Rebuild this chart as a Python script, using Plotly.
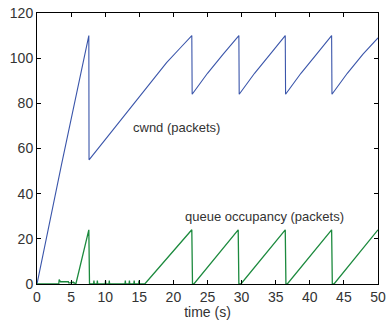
import plotly.graph_objects as go

# cwnd (packets) over time (s)
cwnd_t = [0, 3.6, 7.6, 7.63, 11.2, 16.1, 19.0, 21.0, 22.7,
          22.75, 25.0, 27.3, 29.6,
          29.65, 31.9, 34.2, 36.4,
          36.45, 38.7, 41.0, 43.2,
          43.25, 45.5, 47.8, 50]
cwnd_v = [0, 53, 110, 55, 68.5, 87, 98, 104.5, 110,
          84, 93.3, 101.8, 110,
          84, 93.3, 101.8, 110,
          84, 93.3, 101.8, 110,
          84, 93.3, 101.8, 109]

# queue occupancy (packets) over time (s)
queue_t = [0, 3.2, 3.25, 3.4, 3.45, 4.6, 4.65, 5.0, 5.05, 5.3, 5.35, 5.7,
           7.6, 7.7, 8.3, 8.35, 8.4, 8.8, 8.85, 8.9, 10.0, 10.05, 10.1,
           10.55, 10.6, 10.65, 12.9, 12.95, 13.0, 13.5, 13.55, 13.6,
           14.2, 14.25, 14.3, 14.9, 14.95, 15.0, 15.8, 22.7, 22.8, 23.0,
           29.5, 29.6, 29.9, 36.4, 36.5, 36.7, 43.2, 43.3, 43.55, 50]
queue_v = [0, 0, 2, 1.5, 1, 1, 0.5, 0.5, 1, 0.5, 0.8, 0,
           24, 0, 0, 1.5, 0, 0, 1.5, 0, 0, 1.5, 0,
           0, 1.5, 0, 0, 1.5, 0, 0, 1.5, 0,
           0, 1.5, 0, 0, 1.5, 0, 0, 24, 0, 0,
           24, 0, 0, 24, 0, 0, 24, 0, 0, 24]

x_ticks = [0, 5, 10, 15, 20, 25, 30, 35, 40, 45, 50]
y_ticks = [0, 20, 40, 60, 80, 100, 120]

fig = go.Figure()
fig.add_trace(go.Scatter(x=cwnd_t, y=cwnd_v, mode="lines",
                         line=dict(color="#3a55aa", width=1.1), showlegend=False))
fig.add_trace(go.Scatter(x=queue_t, y=queue_v, mode="lines",
                         line=dict(color="#1c8a3e", width=1.3), showlegend=False))

fam = "Liberation Sans, Arial, sans-serif"
font = dict(family=fam, size=14, color="#333333")

fig.add_annotation(x=20.4, y=69.5, text="cwnd (packets)", showarrow=False,
                   font=dict(family=fam, size=13, color="#333333"))
fig.add_annotation(x=33.3, y=29.9, text="queue occupancy (packets)", showarrow=False,
                   font=dict(family=fam, size=13, color="#333333"))

axis_common = dict(showgrid=False, zeroline=False, showline=True, linecolor="black",
                   linewidth=1, mirror="ticks", ticks="inside", ticklen=4,
                   tickcolor="black", tickfont=font, automargin=False)
fig.update_xaxes(range=[0, 50], tickvals=x_ticks,
                 title=dict(text="time (s)", font=font, standoff=0), **axis_common)
fig.update_yaxes(range=[0, 120], tickvals=y_ticks, **axis_common)

fig.update_layout(width=390, height=320, margin=dict(l=37, r=12, t=13, b=36),
                  plot_bgcolor="white", paper_bgcolor="white", font=font)

fig.write_html("out.html")
